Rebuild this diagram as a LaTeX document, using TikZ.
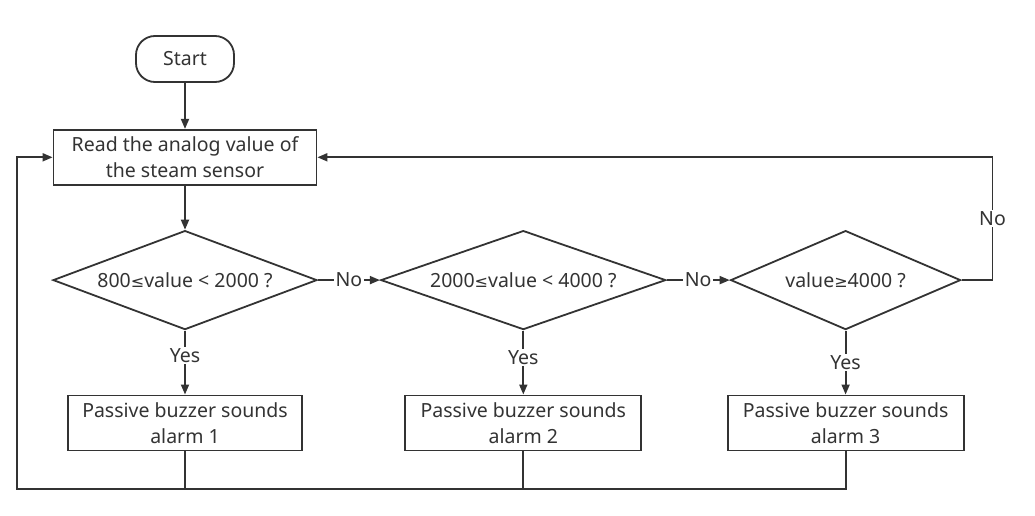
\documentclass[tikz,border=0pt]{standalone}
\usepackage{fontspec}
\setmainfont{Noto Sans}
\newfontfamily\symfont{DejaVu Sans}
\usetikzlibrary{shapes.geometric, arrows.meta, positioning, calc}
\definecolor{linegray}{HTML}{333333}
\newcommand{\lesym}{{\symfont\fontsize{16}{26}\selectfont ≤}}
\newcommand{\gesym}{{\symfont\fontsize{16}{26}\selectfont ≥}}

\begin{document}
\begin{tikzpicture}[
    x=1pt, y=-1pt,
    node distance=48pt and 62pt,
    font=\fontsize{19.5}{26}\selectfont,
    text=linegray,
    % node styles
    startstop/.style={rectangle, rounded corners=19pt, draw=linegray, line width=1.8pt, minimum width=98pt, minimum height=46pt, align=center},
    process/.style={rectangle, draw=linegray, line width=1.8pt, minimum height=55pt, inner sep=0pt, align=center},
    decision/.style={diamond, draw=linegray, line width=1.8pt, minimum height=99pt, inner sep=0pt, aspect=2.7, align=center},
    % line styles
    arrow/.style={-{Triangle[length=10pt,width=8pt]}, line width=1.8pt, draw=linegray},
    wire/.style={line width=1.8pt, draw=linegray},
    tag/.style={fill=white, inner sep=1.5pt, text=linegray}
]
\useasboundingbox (0,0) rectangle (1035,516);

% start and read
\node[startstop] (start) at (185,59) {Start};
\node[process, minimum width=263pt, below=46pt of start] (read) {Read the analog value of\\the steam sensor};

% three decisions
\node[decision, minimum width=264pt, below=44pt of read] (dec1) {800\lesym value < 2000 ?};
\node[decision, minimum width=285pt, right=62pt of dec1] (dec2) {2000\lesym value < 4000 ?};
\node[decision, minimum width=230pt, right=63pt of dec2] (dec3) {value\gesym 4000 ?};

% alarms
\node[process, minimum width=234pt, below=64pt of dec1] (alarm1) {Passive buzzer sounds\\alarm 1};
\node[process, minimum width=236pt, below=64pt of dec2] (alarm2) {Passive buzzer sounds\\alarm 2};
\node[process, minimum width=236pt, below=64pt of dec3] (alarm3) {Passive buzzer sounds\\alarm 3};

\coordinate (busleft) at (17,489);

\draw[arrow] (start) -- (read);
\draw[arrow] (read) -- (dec1);
\draw[arrow] (dec1) -- node[tag]{No} (dec2);
\draw[arrow] (dec2) -- node[tag]{No} (dec3);
\draw[arrow] (dec1) -- node[tag, pos=0.39]{Yes} (alarm1);
\draw[arrow] (dec2) -- node[tag, pos=0.42]{Yes} (alarm2);
\draw[arrow] (dec3) -- node[tag, pos=0.5]{Yes} (alarm3);
\draw[arrow] (dec3.east) -- ++(31,0) |- node[tag, pos=0.25]{No} (read.east);

% back to the start of the loop
\draw[arrow] (alarm3.south) |- (busleft) |- (read.west);
\draw[wire] (alarm1.south) -- (alarm1.south |- busleft);
\draw[wire] (alarm2.south) -- (alarm2.south |- busleft);

\end{tikzpicture}
\end{document}
